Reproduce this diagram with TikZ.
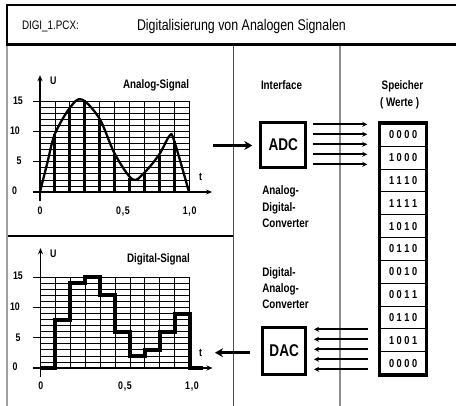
\documentclass[tikz,border=0pt]{standalone}
\usepackage{fontspec}
\setmainfont{Liberation Sans}[FakeStretch=0.8]
\usetikzlibrary{arrows.meta}
\newcommand\bitsx[4]{#1\hspace{2.6pt}#2\hspace{2.6pt}#3\hspace{2.6pt}#4}
\newcommand\decx[3]{#1\hspace{0.7pt}#2\hspace{0.7pt}#3}
\definecolor{leftgray}{RGB}{160,160,160}
\definecolor{darkgray2}{RGB}{80,80,80}
\definecolor{midgray}{RGB}{140,140,140}
\begin{document}
\begin{tikzpicture}[x=1pt,y=-1pt,
  txt/.style={inner sep=0pt, outer sep=0pt},
  lab/.style={txt, font=\bfseries\fontsize{12.3}{14}\selectfont},
  tk/.style={txt, font=\bfseries\fontsize{11}{12}\selectfont},
  gridline/.style={line width=0.7pt},
  axisline/.style={line width=1.3pt, -{Stealth[length=6pt,width=5pt]}},
  conv/.style={draw, line width=3pt, inner sep=0pt, font=\bfseries\fontsize{17}{20}\selectfont},
  cell/.style={draw, line width=0.8pt, minimum width=46.3pt, minimum height=22.84pt, inner sep=0pt, font=\bfseries\fontsize{11.5}{13}\selectfont},
  bus/.style={line width=1.6pt, -{Stealth[length=5pt,width=5pt]}},
  bigarrow/.style={line width=3pt, -{Stealth[length=8pt,width=9pt]}},
  sample/.style={line width=3pt},
  stepline/.style={line width=4pt, line join=miter},
]
\useasboundingbox (0,0) rectangle (456,406);
% frame
\draw[line width=2pt] (7,4) -- (7,45);
\draw[line width=2pt] (6,5) -- (456,5);
\draw[line width=3pt] (6,45) -- (456,45);
\draw[leftgray, line width=1.5pt] (7,46.5) -- (7,406);
\draw[darkgray2, line width=1.3pt] (233.3,46.5) -- (233.3,406);
\draw[midgray, line width=1.2pt] (340,46.5) -- (340,406);
\draw[line width=1.3pt] (7.7,236) -- (232.7,236);
% header
\node[txt, anchor=base west, font=\fontsize{12.3}{14}\selectfont] (file) at (22,29.3) {DIGI\_1.PCX:};
\node[txt, anchor=base west, font=\fontsize{15.5}{18}\selectfont] (title) at (137,30.7) {Digitalisierung von Analogen Signalen};

% ---------- analog plot ----------
\begin{scope}[shift={(40,192)}, x=149pt, y=6.05pt]
  \foreach \i in {0,...,15} \draw[gridline] (0,\i) -- (1,\i);
  \foreach \i in {0,...,10} \draw[gridline] (\i/10,0) -- (\i/10,15);
  \foreach \i in {5,10,15} \draw[gridline] (-0.05,\i) -- (0,\i);
  \foreach \t/\u in {0.1/9.6,0.2/13.9,0.3/15.2,0.4/12.1,0.5/6.3,0.6/2.3,0.7/3.2,0.8/6.1,0.9/8.5}
    \draw[sample] (\t,0) -- (\t,\u);
  \draw[line width=2.3pt] plot[smooth, tension=0.55] coordinates {(0,0) (0.05,4.9) (0.1,9.6) (0.2,13.9) (0.28,15.3) (0.4,12.1) (0.5,6.4) (0.62,2.1) (0.7,3.2) (0.8,6.2) (0.87,9.3) (0.9,8.5) (1.0,0)};
  \draw[axisline] (0,-1.5) -- (0,19.3);
  \draw[axisline] (-0.05,0) -- (1.155,0);
\end{scope}
\node[lab, anchor=base west] (asig) at (123,88.3) {Analog-Signal};
\node[tk, anchor=base west] (au) at (50,84.3) {U};
\node[tk, anchor=base] (at) at (200.5,181) {t};
\node[tk, anchor=base] (a15) at (18,104.3) {15};
\node[tk, anchor=base] (a10) at (15,134.3) {10};
\node[tk, anchor=base] (a5) at (19,165) {5};
\node[tk, anchor=base] (a0) at (14.5,195) {0};
\node[tk, anchor=base] (ax0) at (40,214.3) {0};
\node[tk, anchor=base] (ax5) at (123,214.3) {\decx0,5};
\node[tk, anchor=base] (ax10) at (189.7,214.3) {\decx1,0};

% ---------- digital plot ----------
\begin{scope}[shift={(40.5,368)}, x=149pt, y=6.05pt]
  \foreach \i in {0,...,15} \draw[gridline] (0,\i) -- (1,\i);
  \foreach \i in {0,...,10} \draw[gridline] (\i/10,0) -- (\i/10,15);
  \foreach \i in {5,10,15} \draw[gridline] (-0.05,\i) -- (0,\i);
  \draw[axisline] (0,-1.5) -- (0,19.8);
  \draw[axisline] (-0.05,0) -- (1.155,0);
  \draw[stepline] (0,0) -- (0.1,0) -- (0.1,8) -- (0.2,8) -- (0.2,14) -- (0.3,14) -- (0.3,15) -- (0.4,15) -- (0.4,12) -- (0.5,12) -- (0.5,6) -- (0.6,6) -- (0.6,2) -- (0.7,2) -- (0.7,3) -- (0.8,3) -- (0.8,6) -- (0.9,6) -- (0.9,9) -- (1.0,9) -- (1.0,0) -- (1.09,0);
\end{scope}
\node[lab, anchor=base west] (dsig) at (127,262.7) {Digital-Signal};
\node[tk, anchor=base west] (du) at (50,257.3) {U};
\node[tk, anchor=base] (dt) at (200.5,356.7) {t};
\node[tk, anchor=base] (d15) at (18,280) {15};
\node[tk, anchor=base] (d10) at (15,311) {10};
\node[tk, anchor=base] (d5) at (18,341.7) {5};
\node[tk, anchor=base] (d0) at (15,371) {0};
\node[tk, anchor=base] (dx0) at (40.7,389.3) {0};
\node[tk, anchor=base] (dx5) at (125,389.3) {\decx0,5};
\node[tk, anchor=base] (dx10) at (192,389.3) {\decx1,0};

% ---------- interface ----------
\node[lab, anchor=base west] (iface) at (261,90) {Interface};
\node[conv, minimum width=45pt, minimum height=45pt] (adc) at (283.3,145) {ADC};
\node[conv, minimum width=43.3pt, minimum height=46.7pt] (dac) at (284.2,350.9) {DAC};
\node[lab, anchor=base west] (adc1) at (262.3,195) {Analog-};
\node[lab, anchor=base west] (adc2) at (262.3,211.5) {Digital-};
\node[lab, anchor=base west] (adc3) at (262.3,228) {Converter};
\node[lab, anchor=base west] (dac1) at (262.3,277) {Digital-};
\node[lab, anchor=base west] (dac2) at (262.3,293) {Analog-};
\node[lab, anchor=base west] (dac3) at (262.3,309) {Converter};

% ---------- memory ----------
\node[lab, anchor=base west] (speicher) at (381.7,90) {Speicher};
\node[lab, anchor=base west] (werte) at (380,106.7) {( Werte )};
\foreach \v [count=\i] in {0000,1000,1110,1111,1010,0110,0010,0011,0110,1001,0000}
  \node[cell] (m\i) at (403.15,{123.3+22.84*(\i-0.5)}) {\expandafter\bitsx\v};
\draw[line width=3.5pt] (m1.north west) rectangle (m11.south east);

% ---------- connectors ----------
\coordinate (ain) at (213,145.5);
\draw[bigarrow, shorten >=7pt] (ain) -- (adc.west |- ain);
\coordinate (dout) at (215,352.7);
\draw[bigarrow, shorten <=11pt] (dac.west |- dout) -- (dout);
\foreach \dy in {-20.7,-10.7,-0.7,9.3,19.3}
  \draw[bus] (adc.east) ++(6,\dy) -- ++(54,0);
\foreach \dy in {-21.6,-11.6,-1.6,8.4,18.4}
  \draw[bus] (dac.east) ++(61,\dy) -- ++(-54.3,0);
\end{tikzpicture}
\end{document}
